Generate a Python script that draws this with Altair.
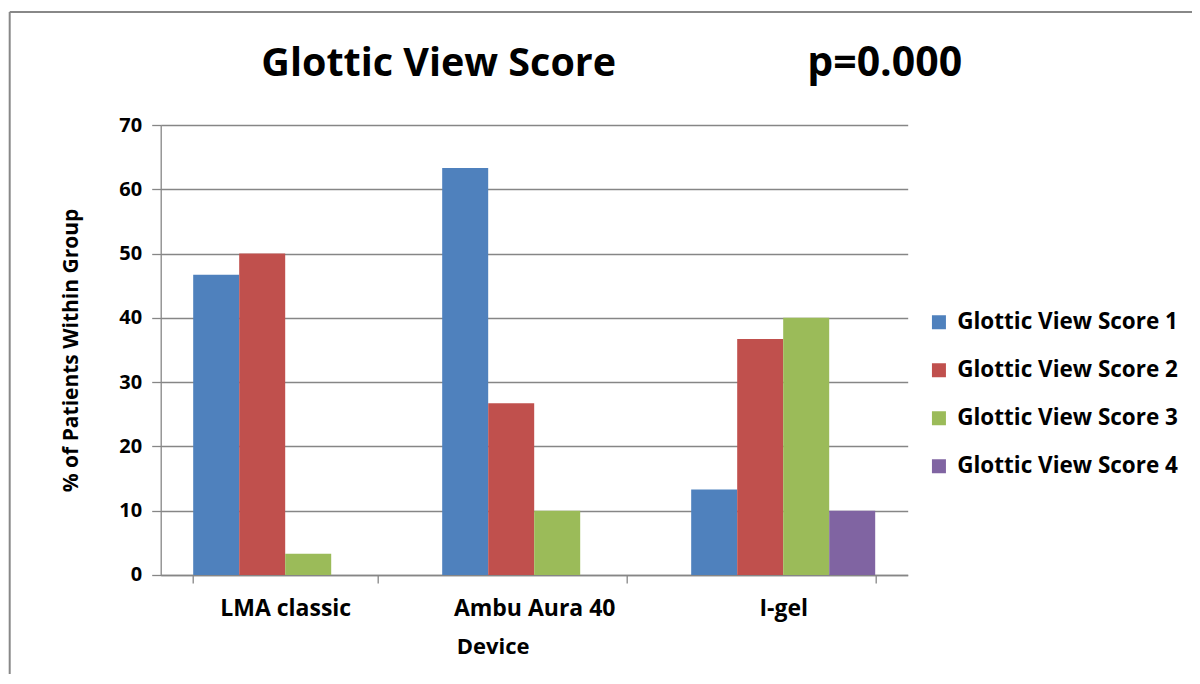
import altair as alt
import pandas as pd

devices = ["LMA classic", "Ambu Aura 40", "I-gel"]
scores = ["Glottic View Score 1", "Glottic View Score 2", "Glottic View Score 3", "Glottic View Score 4"]
score1 = [46.7, 63.3, 13.3]
score2 = [50.0, 26.7, 36.7]
score3 = [3.3, 10.0, 40.0]
score4 = [0.0, 0.0, 10.0]
colors = ["#4F81BD", "#C0504D", "#9BBB59", "#8064A2"]
y_ticks = [0, 10, 20, 30, 40, 50, 60, 70]

rows = []
for s, vals in zip(scores, [score1, score2, score3, score4]):
    for d, v in zip(devices, vals):
        rows.append({"Device": d, "Score": s, "Value": v})
df = pd.DataFrame(rows)

FONT = "Open Sans"
GRAY = "#868686"

bars = alt.Chart(df).mark_bar().encode(
    x=alt.X(
        "Device:N", sort=devices,
        scale=alt.Scale(paddingInner=0.261, paddingOuter=0.1305),
        axis=alt.Axis(
            title="Device", labelAngle=0, tickBand="extent", ticks=True, tickSize=8,
            tickColor=GRAY, tickWidth=1.3, domainColor=GRAY, domainWidth=1.6,
            labelFont=FONT, labelFontSize=23, labelFontWeight="bold", labelColor="black",
            labelPadding=15, titleFont=FONT, titleFontSize=22, titleFontWeight="bold",
            titleColor="black", titleX=332, titleY=79, titleBaseline="alphabetic", grid=False,
        ),
    ),
    xOffset=alt.XOffset("Score:N", sort=scores, scale=alt.Scale(paddingInner=0, paddingOuter=0)),
    y=alt.Y(
        "Value:Q", scale=alt.Scale(domain=[0, 70]),
        axis=alt.Axis(
            values=y_ticks, title="% of Patients Within Group", grid=True, gridColor=GRAY,
            gridWidth=1.3, tickColor=GRAY, tickWidth=1.3, tickSize=9, domainColor=GRAY,
            domainWidth=1.3, labelFont=FONT, labelFontSize=20, labelFontWeight="bold",
            labelColor="black", labelPadding=10, titleFont=FONT, titleFontSize=21,
            titleFontWeight="bold", titleColor="black", titlePadding=37,
        ),
    ),
    color=alt.Color(
        "Score:N", sort=scores, scale=alt.Scale(domain=scores, range=colors),
        legend=alt.Legend(
            title=None, orient="none", legendX=767, legendY=186, symbolType="square",
            symbolSize=196, symbolStrokeWidth=0, labelFont=FONT, labelFontSize=22.5,
            labelFontWeight="bold", labelColor="black", labelOffset=7, rowPadding=25,
            padding=0, labelLimit=400,
        ),
    ),
)

one = pd.DataFrame({"k": [0]})
title1 = alt.Chart(one).mark_text(
    font=FONT, fontSize=39.5, fontWeight="bold", color="black", align="center", baseline="alphabetic"
).encode(x=alt.value(278), y=alt.value(-49), text=alt.value("Glottic View Score"))
title2 = alt.Chart(one).mark_text(
    font=FONT, fontSize=41, fontWeight="bold", color="black", align="center", baseline="alphabetic"
).encode(x=alt.value(724), y=alt.value(-49), text=alt.value("p=0.000"))

frame_top = alt.Chart(one).mark_rule(color="#888888", strokeWidth=2).encode(
    x=alt.value(-151), x2=alt.value(1040), y=alt.value(-113)
)
frame_left = alt.Chart(one).mark_rule(color="#888888", strokeWidth=2).encode(
    x=alt.value(-151), y=alt.value(-113), y2=alt.value(560)
)

chart = alt.layer(bars, title1, title2, frame_top, frame_left).properties(
    width=747, height=450, autosize="none",
    padding={"left": 152.7, "top": 117, "right": 284, "bottom": 99},
    background="white",
).configure_view(stroke=None)

chart.save("out.html", embed_options={"renderer": "svg", "actions": False})
